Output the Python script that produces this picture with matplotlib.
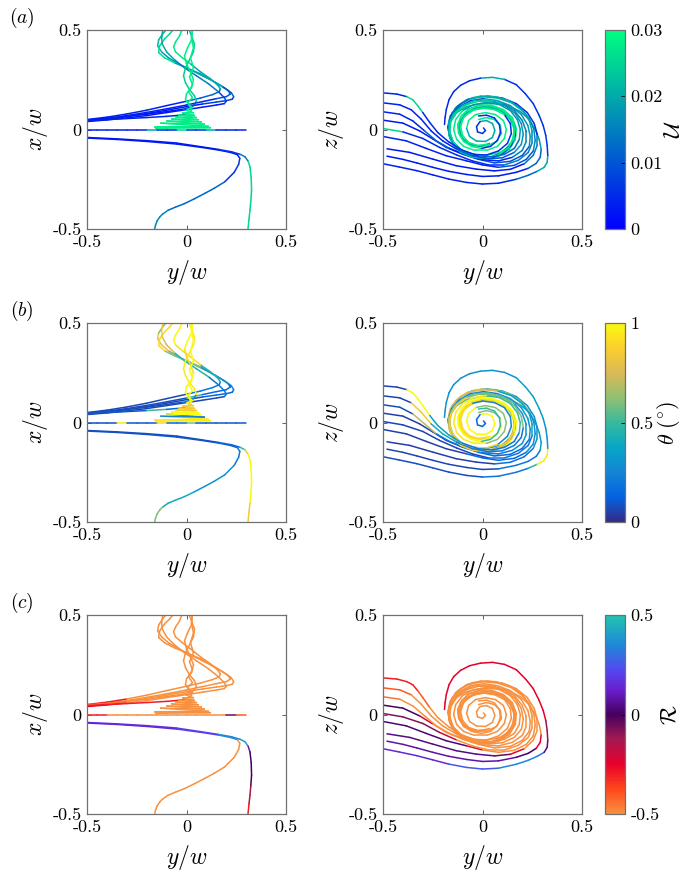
import numpy as np
import matplotlib
matplotlib.use('Agg')
import matplotlib.pyplot as plt
from matplotlib.collections import LineCollection
from matplotlib.colors import LinearSegmentedColormap, Normalize
from matplotlib.cm import ScalarMappable

plt.rcParams['font.family'] = 'serif'
plt.rcParams['font.serif'] = ['cmr10']
plt.rcParams['mathtext.fontset'] = 'cm'
plt.rcParams['axes.unicode_minus'] = False
plt.rcParams['axes.formatter.use_mathtext'] = True

# ---- cross-stream view (y/w, z/w) ----
vortex_1 = [(-0.50, 0.184), (-0.43, 0.178), (-0.38, 0.165), (-0.35, 0.149), (-0.325, 0.119),
            (-0.30, 0.085), (-0.265, 0.035), (-0.225, -0.015), (-0.17, -0.062), (-0.10, -0.105),
            (-0.02, -0.132), (0.05, -0.138), (0.11, -0.125), (0.16, -0.095), (0.185, -0.05),
            (0.19, 0.0), (0.175, 0.05), (0.14, 0.095), (0.085, 0.125), (0.02, 0.135),
            (-0.045, 0.125), (-0.10, 0.095), (-0.135, 0.05), (-0.145, 0.0), (-0.13, -0.05),
            (-0.095, -0.085), (-0.04, -0.105), (0.02, -0.105), (0.075, -0.085), (0.11, -0.045),
            (0.12, 0.0), (0.105, 0.045), (0.065, 0.075), (0.015, 0.085), (-0.035, 0.075),
            (-0.07, 0.045), (-0.08, 0.005), (-0.065, -0.035), (-0.03, -0.058), (0.015, -0.06),
            (0.05, -0.04), (0.062, -0.005), (0.05, 0.03), (0.02, 0.045), (-0.012, 0.04),
            (-0.03, 0.015), (-0.025, -0.012), (0.0, -0.02), (0.015, -0.005), (0.005, 0.008)]
vortex_2 = [(-0.50, 0.134), (-0.416, 0.124), (-0.358, 0.099), (-0.308, 0.052), (-0.258, -0.007),
            (-0.20, -0.057), (-0.13, -0.099), (-0.05, -0.13), (0.03, -0.148), (0.10, -0.142),
            (0.16, -0.115), (0.195, -0.075), (0.205, -0.025), (0.195, 0.03), (0.165, 0.08),
            (0.115, 0.118), (0.05, 0.14), (-0.02, 0.142), (-0.08, 0.125), (-0.13, 0.09),
            (-0.16, 0.04), (-0.165, -0.015), (-0.145, -0.065), (-0.105, -0.105), (-0.045, -0.125),
            (0.02, -0.128), (0.08, -0.108), (0.125, -0.07), (0.145, -0.02), (0.14, 0.03),
            (0.11, 0.075), (0.06, 0.1), (0.0, 0.108), (-0.055, 0.095), (-0.095, 0.06),
            (-0.11, 0.015), (-0.10, -0.03), (-0.07, -0.065), (-0.025, -0.08), (0.02, -0.075)]
vortex_3 = [(-0.50, 0.089), (-0.416, 0.077), (-0.35, 0.043), (-0.291, -0.007), (-0.232, -0.057),
            (-0.166, -0.095), (-0.082, -0.128), (0.0, -0.152), (0.08, -0.158), (0.15, -0.14),
            (0.20, -0.105), (0.22, -0.06), (0.22, -0.01), (0.20, 0.045), (0.16, 0.095),
            (0.10, 0.13), (0.03, 0.148), (-0.04, 0.145), (-0.10, 0.12), (-0.145, 0.08),
            (-0.17, 0.03), (-0.17, -0.025), (-0.15, -0.075), (-0.11, -0.115), (-0.05, -0.14),
            (0.015, -0.145), (0.08, -0.128), (0.13, -0.092), (0.158, -0.045), (0.162, 0.005),
            (0.145, 0.055), (0.105, 0.095), (0.05, 0.118), (-0.01, 0.122), (-0.065, 0.105),
            (-0.105, 0.07), (-0.125, 0.025), (-0.12, -0.02), (-0.095, -0.06), (-0.055, -0.085),
            (-0.005, -0.095), (0.04, -0.085), (0.075, -0.055), (0.09, -0.015), (0.085, 0.025),
            (0.06, 0.058), (0.02, 0.072), (-0.02, 0.068)]
vortex_4 = [(-0.50, 0.047), (-0.40, 0.032), (-0.316, -0.007), (-0.249, -0.048), (-0.182, -0.090),
            (-0.10, -0.124), (-0.02, -0.15), (0.06, -0.168), (0.14, -0.16), (0.20, -0.13),
            (0.235, -0.085), (0.24, -0.035), (0.228, 0.02), (0.195, 0.075), (0.14, 0.12),
            (0.075, 0.145), (0.005, 0.155), (-0.06, 0.145), (-0.115, 0.115), (-0.155, 0.07),
            (-0.172, 0.015), (-0.165, -0.04), (-0.135, -0.09), (-0.085, -0.125), (-0.025, -0.145),
            (0.04, -0.145), (0.10, -0.122), (0.145, -0.08), (0.165, -0.03), (0.16, 0.02),
            (0.132, 0.068), (0.085, 0.1), (0.03, 0.115), (-0.03, 0.11), (-0.08, 0.085),
            (-0.11, 0.045), (-0.118, 0.0), (-0.10, -0.045), (-0.06, -0.075), (-0.01, -0.085),
            (0.035, -0.07)]
vortex_5 = [(-0.50, 0.005), (-0.40, -0.012), (-0.30, -0.045), (-0.216, -0.09), (-0.13, -0.128),
            (-0.05, -0.158), (0.03, -0.178), (0.11, -0.178), (0.18, -0.155), (0.23, -0.115),
            (0.25, -0.065), (0.25, -0.01), (0.235, 0.045), (0.20, 0.095), (0.145, 0.135),
            (0.075, 0.158), (0.0, 0.165), (-0.07, 0.152), (-0.125, 0.118), (-0.162, 0.068),
            (-0.175, 0.01), (-0.16, -0.05), (-0.12, -0.1), (-0.06, -0.135), (0.01, -0.148),
            (0.08, -0.135), (0.135, -0.1), (0.165, -0.05), (0.17, 0.005), (0.15, 0.06),
            (0.105, 0.1), (0.045, 0.122), (-0.02, 0.122), (-0.075, 0.1), (-0.11, 0.06),
            (-0.122, 0.012), (-0.108, -0.035)]
vortex_6 = [(-0.50, -0.035), (-0.383, -0.057), (-0.283, -0.095), (-0.182, -0.132), (-0.082, -0.157),
            (0.0, -0.178), (0.08, -0.19), (0.16, -0.18), (0.22, -0.15), (0.255, -0.108),
            (0.265, -0.055), (0.258, 0.0), (0.235, 0.055), (0.195, 0.105), (0.135, 0.145),
            (0.065, 0.165), (-0.01, 0.168), (-0.08, 0.15), (-0.135, 0.11), (-0.165, 0.055),
            (-0.17, -0.005), (-0.15, -0.065), (-0.105, -0.11), (-0.04, -0.138), (0.03, -0.142),
            (0.095, -0.12), (0.14, -0.078), (0.16, -0.025), (0.155, 0.03), (0.125, 0.078),
            (0.075, 0.108), (0.015, 0.118), (-0.045, 0.105), (-0.09, 0.07)]
vortex_7 = [(-0.48, -0.097), (-0.366, -0.115), (-0.249, -0.149), (-0.132, -0.182), (-0.032, -0.199),
            (0.06, -0.208), (0.14, -0.2), (0.21, -0.172), (0.255, -0.13), (0.275, -0.08),
            (0.275, -0.025), (0.26, 0.03), (0.225, 0.085), (0.17, 0.13), (0.1, 0.158),
            (0.025, 0.168), (-0.05, 0.16), (-0.11, 0.13), (-0.152, 0.085), (-0.17, 0.03),
            (-0.165, -0.03), (-0.135, -0.085), (-0.08, -0.125), (-0.015, -0.142), (0.055, -0.135),
            (0.115, -0.102), (0.15, -0.055), (0.16, 0.0), (0.14, 0.05), (0.1, 0.09), (0.04, 0.11)]
vortex_8 = [(-0.48, -0.134), (-0.40, -0.150), (-0.33, -0.168), (-0.25, -0.190), (-0.17, -0.210),
            (-0.08, -0.226), (0.0, -0.236), (0.08, -0.233), (0.17, -0.215), (0.23, -0.195),
            (0.27, -0.17), (0.29, -0.14), (0.295, -0.10), (0.285, -0.05), (0.265, 0.0),
            (0.235, 0.05), (0.19, 0.09), (0.13, 0.12), (0.06, 0.135), (-0.01, 0.13),
            (-0.08, 0.115), (-0.13, 0.085), (-0.16, 0.04), (-0.165, -0.01), (-0.15, -0.06),
            (-0.11, -0.10), (-0.05, -0.125), (0.02, -0.13), (0.09, -0.115), (0.14, -0.08),
            (0.165, -0.03), (0.16, 0.02), (0.13, 0.07), (0.08, 0.10), (0.02, 0.11),
            (-0.04, 0.10), (-0.09, 0.07), (-0.115, 0.03), (-0.115, -0.02), (-0.09, -0.06),
            (-0.04, -0.085), (0.02, -0.085), (0.07, -0.06), (0.095, -0.02), (0.09, 0.02),
            (0.06, 0.05), (0.02, 0.06), (-0.02, 0.05)]
vortex_9 = [(-0.50, -0.172), (-0.42, -0.188), (-0.33, -0.207), (-0.25, -0.228), (-0.17, -0.249),
            (-0.08, -0.266), (0.0, -0.274), (0.08, -0.270), (0.17, -0.250), (0.23, -0.230),
            (0.275, -0.210), (0.31, -0.190), (0.325, -0.165), (0.328, -0.130), (0.325, -0.08),
            (0.318, -0.03), (0.305, 0.02), (0.285, 0.07), (0.255, 0.13), (0.215, 0.18),
            (0.17, 0.225), (0.11, 0.252), (0.05, 0.262), (-0.01, 0.258), (-0.065, 0.245),
            (-0.11, 0.222), (-0.145, 0.19), (-0.168, 0.15), (-0.182, 0.10), (-0.188, 0.06),
            (-0.191, 0.025)]

# colour along each path: (start segment, value) for U, theta, R
vortex_1_c = ([(0, 0.004), (2, 0.025), (5, 0.005), (10, 0.012), (14, 0.018), (21, 0.028), (36, 0.02), (44, 0.006)],
              [(0, 0.06), (2, 1.0), (6, 0.35), (9, 0.2), (14, 0.5), (19, 0.95), (27, 0.62), (34, 1.0), (44, 0.15)],
              [(0, -0.3), (4, -0.4), (6, -0.5)])
vortex_2_c = ([(0, 0.004), (6, 0.01), (10, 0.018), (16, 0.025), (24, 0.006), (30, 0.028)],
              [(0, 0.06), (2, 0.85), (4, 0.4), (6, 0.2), (12, 0.6), (18, 0.85), (26, 0.25), (33, 0.9)],
              [(0, -0.4), (2, -0.5)])
vortex_3_c = ([(0, 0.004), (3, 0.012), (5, 0.004), (9, 0.015), (15, 0.022), (25, 0.028), (40, 0.006)],
              [(0, 0.08), (2, 0.7), (4, 0.2), (9, 0.3), (14, 0.55), (20, 0.85), (28, 1.0), (40, 0.5)],
              [(0, -0.45), (1, -0.5)])
vortex_4_c = ([(0, 0.003), (6, 0.01), (10, 0.018), (16, 0.008), (22, 0.006), (29, 0.02)],
              [(0, 0.05), (5, 0.15), (10, 0.3), (15, 0.2), (22, 0.65), (30, 0.9)],
              [(0, 0.0), (2, -0.2), (3, -0.5)])
vortex_5_c = ([(0, 0.025), (1, 0.005), (7, 0.015), (11, 0.02), (17, 0.012), (24, 0.027)],
              [(0, 0.06), (6, 0.2), (10, 0.35), (15, 0.75), (20, 0.55), (25, 1.0)],
              [(0, -0.08), (3, -0.2), (4, -0.5)])
vortex_6_c = ([(0, 0.004), (6, 0.01), (9, 0.016), (14, 0.022), (20, 0.006), (26, 0.028)],
              [(0, 0.05), (4, 0.15), (8, 0.3), (12, 0.6), (16, 0.85), (22, 0.2), (26, 0.65)],
              [(0, 0.02), (4, -0.2), (5, -0.5)])
vortex_7_c = ([(0, 0.003), (7, 0.014), (10, 0.006), (15, 0.02), (22, 0.028)],
              [(0, 0.05), (5, 0.18), (8, 0.3), (13, 0.25), (18, 0.7), (24, 0.95)],
              [(0, 0.05), (5, -0.05), (6, -0.25), (7, -0.5)])
vortex_8_c = ([(0, 0.003), (9, 0.012), (12, 0.018), (18, 0.02), (27, 0.027)],
              [(0, 0.06), (7, 0.2), (11, 0.35), (16, 0.55), (22, 0.3), (28, 0.85), (36, 1.0), (44, 0.6)],
              [(0, 0.08), (8, 0.0), (10, -0.25), (12, -0.5)])
vortex_9_c = ([(0, 0.004), (8, 0.012), (10, 0.02), (13, 0.006), (21, 0.02), (23, 0.005)],
              [(0, 0.08), (6, 0.2), (9, 0.45), (10, 0.95), (13, 0.3), (16, 0.35), (20, 0.3)],
              [(0, 0.15), (4, 0.25), (7, 0.35), (10, 0.3), (11, 0.05), (13, -0.1), (15, -0.25)])

# ---- plan view (y/w, x/w) ----
plan_h = [(-0.5 + 0.05 * i, 0.0) for i in range(16)] + [(0.297, 0.0)]
plan_wiggle = [(-0.155, 0.006), (0.12, 0.009), (-0.16, 0.013), (0.11, 0.016), (-0.13, 0.032),
               (0.09, 0.027), (-0.10, 0.043), (0.075, 0.038), (-0.075, 0.053), (0.06, 0.049),
               (-0.055, 0.063), (0.05, 0.06), (-0.04, 0.073), (0.04, 0.071), (-0.02, 0.083),
               (0.035, 0.084), (0.0, 0.097), (0.03, 0.11), (0.005, 0.135), (0.03, 0.16),
               (0.01, 0.19), (0.03, 0.225), (0.015, 0.265), (0.035, 0.31), (0.02, 0.36),
               (0.035, 0.41), (0.025, 0.46), (0.03, 0.51)]
plan_core1 = [(-0.5, 0.045), (-0.4, 0.05), (-0.3, 0.055), (-0.2, 0.06), (-0.1, 0.066),
              (-0.03, 0.072), (0.0, 0.08), (0.025, 0.095), (0.015, 0.12), (-0.005, 0.15),
              (0.0, 0.18), (0.025, 0.21), (0.035, 0.25), (0.02, 0.29), (0.0, 0.33),
              (-0.01, 0.37), (0.005, 0.41), (0.025, 0.45), (0.03, 0.51)]
plan_core2 = [(-0.5, 0.048), (-0.4, 0.056), (-0.3, 0.066), (-0.2, 0.077), (-0.1, 0.09),
              (-0.02, 0.102), (0.03, 0.115), (0.05, 0.14), (0.04, 0.17), (0.015, 0.2),
              (-0.005, 0.235), (-0.015, 0.27), (-0.005, 0.31), (0.015, 0.35), (0.035, 0.39),
              (0.04, 0.43), (0.025, 0.47), (0.01, 0.51)]
plan_swing1 = [(-0.5, 0.042), (-0.4, 0.052), (-0.3, 0.065), (-0.2, 0.08), (-0.1, 0.097),
               (0.0, 0.115), (0.08, 0.128), (0.15, 0.138), (0.2, 0.145), (0.23, 0.152),
               (0.237, 0.165), (0.225, 0.185), (0.19, 0.21), (0.14, 0.24), (0.08, 0.27),
               (0.02, 0.30), (-0.04, 0.33), (-0.09, 0.36), (-0.125, 0.39), (-0.145, 0.42),
               (-0.14, 0.45), (-0.12, 0.48), (-0.095, 0.51)]
plan_swing2 = [(-0.5, 0.046), (-0.4, 0.056), (-0.3, 0.07), (-0.2, 0.086), (-0.1, 0.104),
               (0.0, 0.123), (0.08, 0.14), (0.15, 0.155), (0.2, 0.165), (0.22, 0.178),
               (0.21, 0.195), (0.18, 0.215), (0.13, 0.245), (0.07, 0.28), (0.0, 0.31),
               (-0.06, 0.335), (-0.11, 0.36), (-0.14, 0.387), (-0.135, 0.42), (-0.11, 0.455),
               (-0.085, 0.48), (-0.06, 0.51)]
plan_swing3 = [(-0.5, 0.04), (-0.4, 0.048), (-0.3, 0.058), (-0.2, 0.07), (-0.1, 0.085),
               (0.0, 0.1), (0.08, 0.112), (0.15, 0.123), (0.19, 0.13), (0.2, 0.142),
               (0.19, 0.16), (0.16, 0.19), (0.11, 0.23), (0.05, 0.27), (-0.01, 0.31),
               (-0.06, 0.35), (-0.1, 0.39), (-0.122, 0.43), (-0.125, 0.46), (-0.118, 0.51)]
plan_swing4 = [(-0.5, 0.05), (-0.4, 0.062), (-0.3, 0.078), (-0.2, 0.097), (-0.1, 0.12),
               (0.0, 0.142), (0.07, 0.158), (0.13, 0.175), (0.165, 0.19), (0.17, 0.205),
               (0.155, 0.225), (0.12, 0.255), (0.07, 0.29), (0.02, 0.33), (-0.02, 0.36),
               (-0.055, 0.39), (-0.065, 0.415), (-0.055, 0.44), (-0.035, 0.47), (-0.02, 0.51)]
plan_d = [(-0.5, -0.040), (-0.35, -0.047), (-0.2, -0.056), (-0.05, -0.068), (0.076, -0.087),
          (0.16, -0.100), (0.227, -0.112), (0.27, -0.125), (0.294, -0.137), (0.31, -0.16),
          (0.319, -0.188), (0.325, -0.24), (0.327, -0.305), (0.323, -0.36), (0.319, -0.406),
          (0.314, -0.45), (0.308, -0.51)]
plan_e = [(-0.5, -0.043), (-0.35, -0.05), (-0.2, -0.06), (-0.05, -0.073), (0.076, -0.09),
          (0.16, -0.103), (0.22, -0.115), (0.255, -0.126), (0.268, -0.145), (0.262, -0.175),
          (0.24, -0.215), (0.192, -0.263), (0.14, -0.295), (0.092, -0.321), (0.04, -0.348),
          (-0.009, -0.372), (-0.055, -0.39), (-0.093, -0.406), (-0.12, -0.425), (-0.134, -0.439),
          (-0.148, -0.46), (-0.156, -0.482), (-0.162, -0.51)]

plan_h_c = ([(0, 0.004), (6, 0.02), (7, 0.004), (9, 0.025), (10, 0.006), (12, 0.02), (13, 0.004)],
            [(0, 0.08), (3, 0.95), (4, 0.1), (7, 0.9), (8, 0.15), (10, 0.6), (11, 0.1)],
            [(0, -0.3), (2, -0.5), (14, -0.05), (15, -0.4)])
plan_wiggle_c = ([(0, 0.028)],
                 [(0, 0.95), (4, 0.25), (6, 1.0), (10, 0.85), (16, 1.0)],
                 [(0, -0.5)])
plan_core1_c = ([(0, 0.004), (6, 0.028)],
                [(0, 0.1), (3, 0.5), (4, 0.15), (6, 1.0), (12, 0.9), (15, 1.0)],
                [(0, -0.3), (6, -0.5)])
plan_core2_c = ([(0, 0.003), (5, 0.01), (7, 0.024)],
                [(0, 0.08), (5, 0.3), (7, 0.95)],
                [(0, -0.45), (2, -0.5)])
plan_swing1_c = ([(0, 0.003), (6, 0.008), (10, 0.012), (13, 0.018), (18, 0.022)],
                 [(0, 0.06), (6, 0.15), (10, 0.25), (13, 0.55), (17, 0.8), (20, 0.6)],
                 [(0, -0.2), (1, -0.5)])
plan_swing2_c = ([(0, 0.004), (7, 0.01), (11, 0.02), (15, 0.026)],
                 [(0, 0.08), (5, 0.5), (6, 0.15), (10, 0.3), (13, 0.6), (16, 0.9)],
                 [(0, -0.2), (1, -0.5)])
plan_swing3_c = ([(0, 0.003), (8, 0.008), (11, 0.015), (15, 0.02)],
                 [(0, 0.06), (8, 0.2), (12, 0.45), (15, 0.75), (17, 0.85)],
                 [(0, -0.25), (2, -0.5)])
plan_swing4_c = ([(0, 0.004), (5, 0.012), (9, 0.02), (13, 0.027)],
                 [(0, 0.07), (5, 0.2), (9, 0.45), (12, 0.9), (15, 1.0)],
                 [(0, -0.3), (2, -0.5)])
plan_d_c = ([(0, 0.003), (5, 0.006), (7, 0.015), (9, 0.025)],
            [(0, 0.08), (5, 0.15), (7, 0.5), (8, 0.85), (9, 1.0), (14, 0.85)],
            [(0, 0.15), (3, 0.2), (5, 0.35), (7, 0.4), (9, 0.1), (10, 0.0), (13, -0.15), (15, -0.3)])
plan_e_c = ([(0, 0.003), (8, 0.006), (11, 0.012), (17, 0.016)],
            [(0, 0.1), (7, 0.2), (10, 0.3), (14, 0.4), (18, 0.6)],
            [(0, 0.15), (3, 0.2), (5, 0.35), (7, -0.5)])

vortex_paths = [(vortex_9, vortex_9_c), (vortex_8, vortex_8_c), (vortex_7, vortex_7_c),
                (vortex_6, vortex_6_c), (vortex_5, vortex_5_c), (vortex_4, vortex_4_c),
                (vortex_3, vortex_3_c), (vortex_2, vortex_2_c), (vortex_1, vortex_1_c)]
plan_paths = [(plan_e, plan_e_c), (plan_d, plan_d_c), (plan_h, plan_h_c),
              (plan_swing1, plan_swing1_c), (plan_swing2, plan_swing2_c),
              (plan_swing3, plan_swing3_c), (plan_swing4, plan_swing4_c),
              (plan_core2, plan_core2_c), (plan_core1, plan_core1_c),
              (plan_wiggle, plan_wiggle_c)]

# colour maps
parula = LinearSegmentedColormap.from_list(
    'parula', ['#352a87', '#0363e1', '#1485d4', '#06a7c6', '#38b99e',
               '#92bf73', '#d9ba56', '#fcce2e', '#f9fb0e'])
rmap = LinearSegmentedColormap.from_list(
    'rmap', [(0.0, '#f8913f'), (0.12, '#ff4a1c'), (0.25, '#e8002c'), (0.38, '#a01a52'),
             (0.5, '#45005e'), (0.62, '#6a1ccc'), (0.72, '#5546f0'), (0.85, '#1e88d8'),
             (1.0, '#22c4b0')])

rows = [
    dict(tag=r'$(a)$', cmap=plt.get_cmap('winter'), norm=Normalize(0, 0.03),
         ticks=[0, 0.01, 0.02, 0.03], labels=['0', '0.01', '0.02', '0.03'],
         cbar=r'$\mathcal{U}$'),
    dict(tag=r'$(b)$', cmap=parula, norm=Normalize(0, 1),
         ticks=[0, 0.5, 1], labels=['0', '0.5', '1'], cbar=r'$\theta\ (^{\circ})$'),
    dict(tag=r'$(c)$', cmap=rmap, norm=Normalize(-0.5, 0.5),
         ticks=[-0.5, 0, 0.5], labels=['-0.5', '0', '0.5'], cbar=r'$\mathcal{R}$'),
]


def steps(n, table):
    v = np.empty(n)
    for start, val in table:
        v[start:] = val
    return v


def draw(ax, pts, table, cmap, norm):
    p = np.array(pts)
    seg = np.stack([p[:-1], p[1:]], axis=1)
    lc = LineCollection(seg, cmap=cmap, norm=norm, linewidths=1.1,
                        capstyle='round', joinstyle='round')
    lc.set_array(steps(len(seg), table))
    ax.add_collection(lc)


def style(ax, ylab):
    ax.set_xlim(-0.5, 0.5)
    ax.set_ylim(-0.5, 0.5)
    ax.set_xticks([-0.5, 0, 0.5])
    ax.set_yticks([-0.5, 0, 0.5])
    ax.set_xticklabels(['-0.5', '0', '0.5'])
    ax.set_yticklabels(['-0.5', '0', '0.5'])
    ax.tick_params(direction='in', length=3, width=0.6, color='#444444',
                   top=True, right=True, labelsize=13, pad=4)
    for s in ax.spines.values():
        s.set_color('#707070')
        s.set_linewidth(0.9)
    ax.set_xlabel(r'$y/w$', fontsize=17, labelpad=6)
    ax.set_ylabel(ylab, fontsize=17, labelpad=2)


W, H = 689, 874
fig = plt.figure(figsize=(W / 100, H / 100), dpi=100)
tops = [30, 323, 615]
for r, (row, top) in enumerate(zip(rows, tops)):
    b = 1 - (top + 199) / H
    ax_plan = fig.add_axes([87 / W, b, 199 / W, 199 / H])
    ax_side = fig.add_axes([383 / W, b, 199 / W, 199 / H])
    cax = fig.add_axes([605 / W, b, 20 / W, 199 / H])

    for pts, c in plan_paths:
        draw(ax_plan, pts, c[r], row['cmap'], row['norm'])
    for pts, c in vortex_paths:
        draw(ax_side, pts, c[r], row['cmap'], row['norm'])
    style(ax_plan, r'$x/w$')
    style(ax_side, r'$z/w$')

    cb = fig.colorbar(ScalarMappable(norm=row['norm'], cmap=row['cmap']), cax=cax)
    cb.set_ticks(row['ticks'])
    cb.set_ticklabels(row['labels'])
    cb.ax.tick_params(direction='in', length=3, width=0.6, labelsize=13, pad=4)
    cb.outline.set_edgecolor('#707070')
    cb.outline.set_linewidth(0.9)
    cb.set_label(row['cbar'], fontsize=16, labelpad=1)

    fig.text(22 / W, 1 - (top - 12) / H, row['tag'], fontsize=14,
             ha='center', va='center')

fig.savefig('out.png', dpi=100)
